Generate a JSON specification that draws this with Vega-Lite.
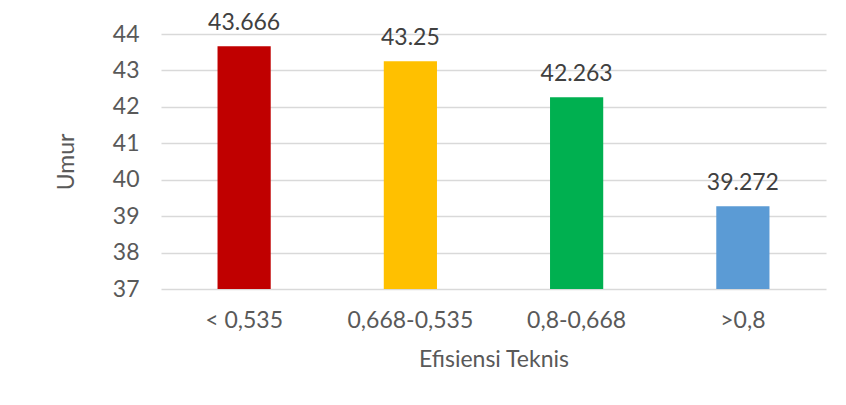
{
  "$schema": "https://vega.github.io/schema/vega-lite/v6.json",
  "autosize": "none",
  "width": 665,
  "height": 255,
  "padding": {"left": 161, "top": 34, "right": 20, "bottom": 116},
  "background": "white",
  "config": {
    "font": "Lato",
    "view": {"stroke": null},
    "axis": {"labelColor": "#595959", "titleColor": "#595959", "labelFont": "Lato", "titleFont": "Lato", "titleFontWeight": "normal"}
  },
  "data": {
    "values": [
      {"kategori": "< 0,535", "umur": 43.666, "label": "43.666"},
      {"kategori": "0,668-0,535", "umur": 43.25, "label": "43.25"},
      {"kategori": "0,8-0,668", "umur": 42.263, "label": "42.263"},
      {"kategori": ">0,8", "umur": 39.272, "label": "39.272"}
    ]
  },
  "encoding": {
    "x": {
      "field": "kategori",
      "type": "nominal",
      "sort": null,
      "scale": {"paddingInner": 0.68, "paddingOuter": 0.34},
      "axis": {
        "title": "Efisiensi Teknis",
        "labelAngle": 0,
        "labelFontSize": 23,
        "titleFontSize": 23,
        "labelPadding": 20,
        "titlePadding": 16,
        "ticks": false,
        "domain": false,
        "labelOverlap": false
      }
    },
    "y": {
      "field": "umur",
      "type": "quantitative",
      "scale": {"domain": [37, 44], "zero": false, "nice": false},
      "axis": {
        "title": "Umur",
        "values": [37, 38, 39, 40, 41, 42, 43, 44],
        "tickCount": 8,
        "labelFontSize": 23,
        "titleFontSize": 23,
        "labelPadding": 22,
        "titlePadding": 34,
        "labelOverlap": false,
        "labelFlush": false,
        "ticks": false,
        "domain": false,
        "gridColor": "#D9D9D9",
        "gridWidth": 1.3
      }
    }
  },
  "layer": [
    {
      "mark": {"type": "bar"},
      "encoding": {
        "y2": {"datum": 37},
        "color": {
          "field": "kategori",
          "type": "nominal",
          "sort": null,
          "scale": {"domain": ["< 0,535", "0,668-0,535", "0,8-0,668", ">0,8"], "range": ["#C00000", "#FFC000", "#00B050", "#5B9BD5"]},
          "legend": null
        }
      }
    },
    {
      "mark": {"type": "text", "baseline": "bottom", "dy": -11, "fontSize": 23, "color": "#404040", "font": "Lato"},
      "encoding": {
        "text": {"field": "label"}
      }
    }
  ]
}
